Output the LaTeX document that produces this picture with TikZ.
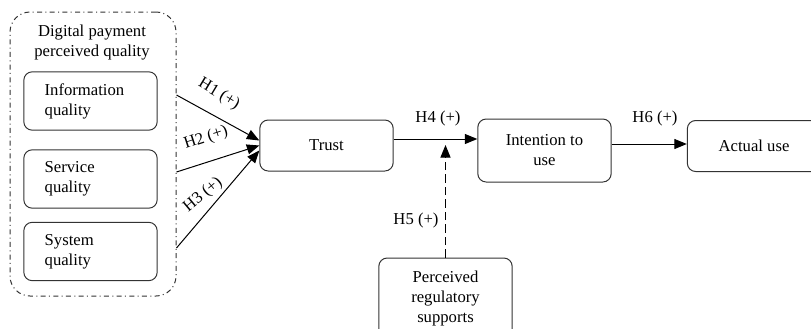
\documentclass[tikz,border=0pt]{standalone}
\usepackage{fontspec}
\setmainfont{Liberation Serif}
\usetikzlibrary{positioning}
\usetikzlibrary{calc}
\usetikzlibrary{arrows.meta}

\begin{document}
\begin{tikzpicture}[
x=0.6pt, y=-0.6pt,
>={Triangle[length=7.5pt, width=6pt]},
line width=0.6pt,
groupnode/.style={rectangle, rounded corners=12pt, draw=black!80, dash dot, minimum width=99.6pt, minimum height=170.4pt},
qualnode/.style={rectangle, rounded corners=5pt, draw=black!80, text width=55pt, inner xsep=12.5pt, align=left, minimum height=35pt},
boxnode/.style={rectangle, rounded corners=5pt, draw=black!80, minimum width=80pt, minimum height=30.6pt, align=center},
hyp/.style={inner sep=1pt},
]
\path[use as bounding box, clip] (0,0) rectangle (811,328);

%Nodes
\node[groupnode] (group)     at (93,154)     {};
\node[align=center] (title)  at (92,43)      {Digital payment\\perceived quality};
\node[qualnode]  (info)      at (90.5,101)   {Information\\quality};
\node[qualnode]  (service)   at (90.5,179)   {Service\\quality};
\node[qualnode]  (system)    at (90.5,251.5) {System\\quality};
\node[boxnode]   (trust)     at (326.5,145.5) {Trust};
\node[boxnode, minimum height=37.8pt] (intention) at (544.5,150.5) {Intention to\\use};
\node[boxnode]   (actual)    at (754,146)    {Actual use};
\node[boxnode, minimum height=48pt] (perceived) at (445.5,298) {Perceived\\regulatory\\supports};

%Labels
\node[hyp, rotate=-31] (h1) at (219,94)  {H1 (+)};
\node[hyp, rotate=18]  (h2) at (206,138) {H2 (+)};
\node[hyp, rotate=40]  (h3) at (203,195) {H3 (+)};
\node[hyp]             (h4) at (438,118) {H4 (+)};
\node[hyp]             (h5) at (416,220) {H5 (+)};
\node[hyp]             (h6) at (655,118) {H6 (+)};

%Lines
\draw[->] ($(group.east |- info.east)+(0,-6)$) -- ($(trust.west)+(0,-5)$);
\draw[->] ($(group.east |- service.east)+(0,-7)$) -- (trust.west);
\draw[->] ($(group.east |- system.east)+(0,-3.5)$) -- ($(trust.west)+(0,5)$);
\draw[->] ($(trust.east)+(0,-6.5)$) coordinate (h4s) -- (h4s -| intention.west);
\draw[->, dash pattern=on 5pt off 2.5pt, shorten >=3.6pt] (perceived.north) -- (perceived.north |- h4s);
\draw[->] ($(intention.east)+(0,-6.5)$) coordinate (h6s) -- (h6s -| actual.west);
\end{tikzpicture}
\end{document}
